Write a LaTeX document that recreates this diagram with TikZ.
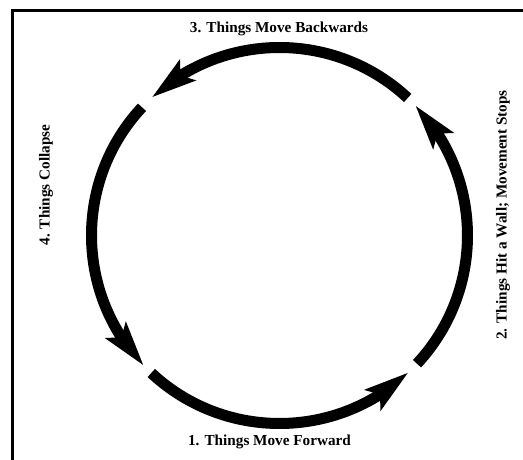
\documentclass[tikz,border=0pt]{standalone}
\usepackage{fontspec}
\setmainfont{Liberation Serif}
\usepackage{tikz}
\usetikzlibrary{arrows.meta}
\usetikzlibrary{bending}

\begin{document}
\begin{tikzpicture}
    \tikzstyle{stage} = [font=\fontsize{13}{15}\selectfont\bfseries, inner sep=0pt];
    \tikzstyle{cycle} = [line width=9.4pt, -{Stealth[length=1.35cm, width=0.81cm, inset=0.3cm, line width=0pt]}];
    \tikzstyle{frame} = [line width=2.5pt];

    \useasboundingbox (0,0) rectangle (15.69,13.8);
    \draw [frame] (0.375, 0) -- (0.375, 13.485) -- (15.69, 13.485);

    \coordinate (centre) at (8.385, 6.735);
    \path (centre) ++(227:5.64) coordinate (cycle-1);
    \path (centre) ++(317:5.64) coordinate (cycle-2);
    \path (centre) ++( 47:5.64) coordinate (cycle-3);
    \path (centre) ++(137:5.64) coordinate (cycle-4);

    \draw [cycle] (cycle-1) arc [start angle=227, end angle=313, radius=5.64];
    \draw [cycle] (cycle-2) arc [start angle=317, end angle=403.5, radius=5.64];
    \draw [cycle] (cycle-3) arc [start angle=47,  end angle=132.5, radius=5.64];
    \draw [cycle] (cycle-4) arc [start angle=137, end angle=223.5, radius=5.64];

    \node [stage] (stage-1) at (8.085, 0.54)            {1. Things Move Forward};
    \node [stage, rotate=90] (stage-2) at (15.09, 7.35) {2. Things Hit a Wall; Movement Stops};
    \node [stage] (stage-3) at (8.37, 12.93)            {3. Things Move Backwards};
    \node [stage, rotate=90] (stage-4) at (1.38, 8.25)  {4. Things Collapse};
\end{tikzpicture}
\end{document}
